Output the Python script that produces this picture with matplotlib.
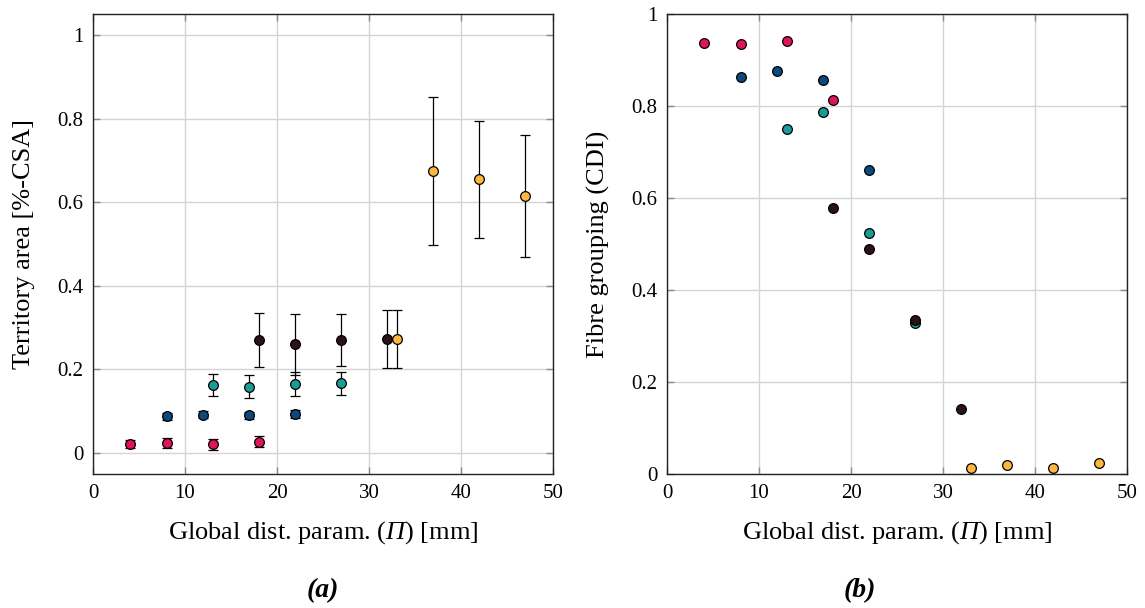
import matplotlib
matplotlib.use("Agg")
import matplotlib.pyplot as plt

plt.rcParams['font.family'] = ['Liberation Serif', 'DejaVu Serif']
plt.rcParams['mathtext.fontset'] = 'custom'
plt.rcParams['mathtext.rm'] = 'Liberation Serif:italic'
plt.rcParams['mathtext.it'] = 'Liberation Serif:italic'

# ---------------- data ----------------
series_names = ["pink", "blue", "teal", "dark", "yellow"]
colors = ["#E0135C", "#0C4A7E", "#1C9C96", "#2B1215", "#FDB73F"]

# (a) Territory area [%-CSA] with error bars
x_pink = [4, 8, 13, 18]
area_pink = [0.022, 0.023, 0.021, 0.027]
err_pink = [0.010, 0.012, 0.013, 0.013]

x_blue = [8, 12, 17, 22]
area_blue = [0.088, 0.092, 0.090, 0.094]
err_blue = [0.008, 0.008, 0.008, 0.010]

x_teal = [13, 17, 22, 27]
area_teal = [0.163, 0.159, 0.165, 0.167]
err_teal = [0.026, 0.028, 0.029, 0.028]

x_dark = [18, 22, 27, 32]
area_dark = [0.271, 0.260, 0.271, 0.273]
err_dark = [0.065, 0.073, 0.062, 0.070]

x_yellow = [33, 37, 42, 47]
area_yellow = [0.273, 0.674, 0.655, 0.614]
err_yellow = [0.070, 0.177, 0.140, 0.146]

# (b) Fibre grouping (CDI)
cdi_pink = [0.936, 0.935, 0.942, 0.812]
cdi_blue = [0.863, 0.876, 0.856, 0.660]
cdi_teal = [0.749, 0.788, 0.523, 0.328]
cdi_dark = [0.579, 0.489, 0.335, 0.141]
cdi_yellow = [0.012, 0.019, 0.012, 0.025]

xs = [x_pink, x_blue, x_teal, x_dark, x_yellow]
areas = [area_pink, area_blue, area_teal, area_dark, area_yellow]
errs = [err_pink, err_blue, err_teal, err_dark, err_yellow]
cdis = [cdi_pink, cdi_blue, cdi_teal, cdi_dark, cdi_yellow]

xticks = [0, 10, 20, 30, 40, 50]
yticks = [0, 0.2, 0.4, 0.6, 0.8, 1]
ytick_labels = ["0", "0.2", "0.4", "0.6", "0.8", "1"]

W, H = 1145, 608
fig = plt.figure(figsize=(W / 100, H / 100), dpi=100)

def frac(l, t, r, b):
    return [l / W, 1 - b / H, (r - l) / W, (b - t) / H]

axA = fig.add_axes(frac(93, 14, 553, 474))
axB = fig.add_axes(frac(667, 14, 1127, 474))

def style(ax):
    ax.set_xlim(0, 50)
    ax.set_xticks(xticks)
    ax.set_xticklabels([str(v) for v in xticks])
    ax.set_yticks(yticks)
    ax.set_yticklabels(ytick_labels)
    ax.grid(True, color="#d4d4d4", linewidth=1.0, zorder=0)
    ax.set_axisbelow(True)
    ax.tick_params(direction="in", length=5, width=1, color="#8c8c8c",
                   top=True, right=True, labelsize=15, pad=7)
    for s in ax.spines.values():
        s.set_linewidth(1.0)
        s.set_color("#222222")
    ax.set_xlabel(r"Global dist. param. ($\Pi$) [mm]", fontsize=19, labelpad=12)

# (a)
for x, y, e, c in zip(xs, areas, errs, colors):
    axA.errorbar(x, y, yerr=e, fmt="o", color="black", ecolor="black",
                 elinewidth=0.9, capsize=3.7, capthick=0.9,
                 markersize=7, markerfacecolor=c, markeredgecolor="black",
                 markeredgewidth=0.9, zorder=3)
axA.set_ylim(-0.05, 1.05)
style(axA)
axA.set_ylabel("Territory area [%-CSA]", fontsize=19, labelpad=16)

# (b)
for x, y, c in zip(xs, cdis, colors):
    axB.plot(x, y, "o", markersize=7, markerfacecolor=c, markeredgecolor="black",
             markeredgewidth=0.9, zorder=3, clip_on=False)
axB.set_ylim(0, 1)
style(axB)
axB.set_ylabel("Fibre grouping (CDI)", fontsize=19, labelpad=15)

fig.text(323 / W, 1 - 591 / H, "(a)", fontsize=20, fontweight="bold",
         fontstyle="italic", ha="center", va="center")
fig.text(860 / W, 1 - 591 / H, "(b)", fontsize=20, fontweight="bold",
         fontstyle="italic", ha="center", va="center")

fig.savefig("out.png", dpi=100)
